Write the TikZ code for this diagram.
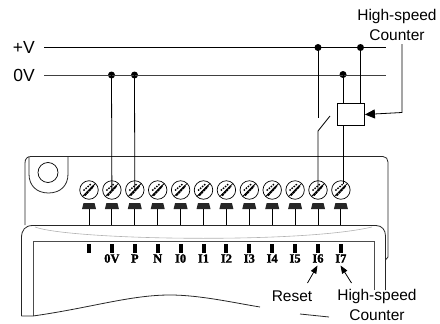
\documentclass[tikz,border=0pt]{standalone}
\usepackage{fontspec}
\setmainfont{Liberation Sans}
\newfontfamily\pinfont[BoldFont={Liberation Serif Bold},BoldFeatures={FakeBold=1.5}]{Liberation Serif}
\usetikzlibrary{arrows.meta}
\tikzset{
    wire/.style={line width=0.8pt},
    rail/.style={line width=0.9pt, black!75},
    case/.style={line width=0.8pt, black!85},
    dot/.style={circle, fill=black, inner sep=0pt, minimum size=7pt},
    word/.style={inner sep=0pt, font=\fontsize{15.5}{17}\selectfont},
    power/.style={inner sep=0pt, font=\fontsize{17.5}{19}\selectfont},
    screw/.style={circle, draw, line width=0.7pt, inner sep=0pt, minimum size=18.5pt},
    pin/.style={inner sep=0pt, font=\pinfont\bfseries\fontsize{12.5}{13}\selectfont}
}
\begin{document}
\begin{tikzpicture}[x=1pt, y=-1pt]
    \useasboundingbox (0, 0) rectangle (440, 324);
    % case behind the terminals
    \draw[case] (25, 225) -- (25, 163) .. controls (25, 159) and (27, 156.5) .. (31, 156.5) -- (383, 156.5)
        .. controls (386, 156.5) and (388, 159) .. (388, 162) -- (388, 257) -- (385.5, 260);
    \draw[case] (29, 156.5) -- (29, 174) .. controls (29, 186) and (37, 193) .. (48.5, 193)
        .. controls (60, 193) and (68, 186) .. (68, 174) -- (68, 156.5);
    \path node[circle, draw, line width=0.7pt, inner sep=0pt, minimum size=20pt] (hole) at (48, 172.5) {};
    % front panel
    \draw[case] (21.5, 316) -- (21.5, 238) .. controls (21.5, 230) and (25, 225.5) .. (33, 225.5) -- (376, 225.5)
        .. controls (382, 225.5) and (385.5, 230) .. (385.5, 236) -- (385.5, 290);
    \draw[black!30, line width=0.6pt] (35, 227) .. controls (70, 240) and (300, 244) .. (372, 227);
    \draw[black!70, line width=0.8pt] (374, 290) -- (374, 241.5) -- (33, 241.5) -- (33, 316);
    \draw[case] (21.5, 316) -- (33, 316) .. controls (90, 308) and (130, 295) .. (170, 295)
        .. controls (200, 295) and (235, 303) .. (260, 307);
    \draw[case] (300, 314) -- (329, 317);
    % terminals
    \foreach \name/\txt [count=\i from 0] in {a/{}, b/0V, c/P, d/N, e/I0, f/I1, g/I2, h/I3, k/I4, l/I5, m/I6, n/I7} {
        \pgfmathsetmacro{\px}{89+22.9*\i}
        \path node[screw] (s\name) at (\px, 190) {};
        \draw[line width=0.8pt] (\px-6.5, 196.5) -- (\px+6.5, 183.5);
        \draw[line width=2pt, dash pattern=on 2.5pt off 0.6pt] (\px-4.5, 195.5) -- (\px+4.5, 186);
        \draw[line width=1.4pt, dash pattern=on 1.5pt off 1.2pt] (\px-5.5, 190.5) -- (\px+2, 184);
        \fill[black!85] (\px-7, 209) -- (\px-5.5, 203) -- (\px+5.5, 203) -- (\px+7, 209) -- cycle;
        \draw[line width=0.9pt] (\px, 209) -- (\px, 225);
        \fill (\px-2, 243.5) rectangle (\px+2, 252.5);
        \path node[pin] (p\name) at (\px, 258.5) {\txt};
    }
    % rails and wiring
    \path node[power, anchor=east] (plus) at (35, 47) {+V}
          node[power, anchor=east] (zero) at (35, 75) {0V}
          coordinate (plusend) at (386, 47.5)
          coordinate (zeroend) at (386, 75)
          coordinate (plusstart) at (44, 47.5)
          coordinate (zerostart) at (44, 75)
          node[dot] (D1) at (111.5, 75) {}
          node[dot] (D2) at (134.5, 75) {}
          node[dot] (D3) at (318, 47.5) {}
          node[dot] (D4) at (360.5, 47.5) {}
          node[dot] (D5) at (343, 74.5) {}
          node[draw, wire, fill=white, minimum width=27pt, minimum height=22pt, inner sep=0pt] (box) at (351, 114.5) {}
          coordinate (swtop) at (318, 117.5)
          coordinate (swbot) at (318, 131)
          coordinate (swtip) at (330, 116)
          coordinate (corner) at (402, 112.5);
    \draw[wire] (plusstart) -- (plusend);
    \draw[rail] (zerostart) -- (zeroend);
    \draw[wire] (D1.center) -- (sb.center);
    \draw[wire] (D2.center) -- (sc.center);
    \draw[wire] (D3.center) -- (swtop);
    \draw[wire] (swbot) -- (swtip);
    \draw[wire] (swbot) -- (sm.center);
    \draw[wire] (D5.center) -- (D5 |- box.north);
    \draw[wire] (D4.center) -- (D4 |- box.north);
    \draw[wire] (D5 |- box.south) -- (343, 184);
    % labels
    \path node[word] (HS) at (397, 16) {High-speed}
          node[word] (HC) at (397, 35) {Counter}
          node[word] (reset) at (292, 296.5) {Reset}
          node[word] (LS) at (377, 296.5) {High-speed}
          node[word] (LC) at (377, 315.5) {Counter}
          coordinate (resetarrow) at (307.5, 283)
          coordinate (countarrow) at (351.5, 283)
          coordinate (HCfoot) at (402, 44);
    \draw[wire, -{Triangle[length=10pt, width=9pt]}] (HCfoot) -- (corner) -- (box.east);
    \draw[wire, -{Triangle[length=8pt, width=6pt]}] (resetarrow) -- (317.5, 265.5);
    \draw[wire, -{Triangle[length=8pt, width=6pt]}] (countarrow) -- (340.5, 265.5);
\end{tikzpicture}
\end{document}
